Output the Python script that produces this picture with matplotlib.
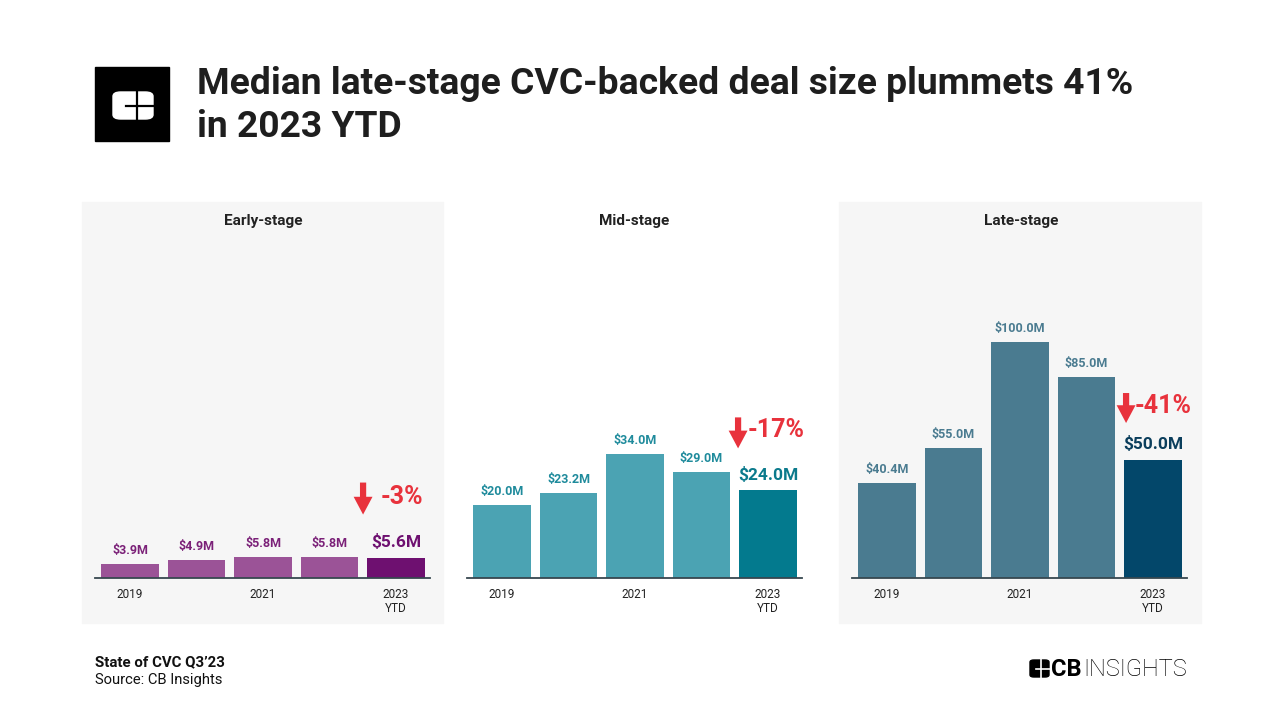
import matplotlib.pyplot as plt
import matplotlib.transforms as mtransforms
from matplotlib.patches import Rectangle, FancyBboxPatch

plt.rcParams['font.family'] = ['Roboto', 'DejaVu Sans']

# data
years = ["2019", "2020", "2021", "2022", "2023 YTD"]
tick_labels = ["2019", "", "2021", "", "2023\nYTD"]
stages = ["Early-stage", "Mid-stage", "Late-stage"]
early = [3.9, 4.9, 5.8, 5.8, 5.6]
mid = [20.0, 23.2, 34.0, 29.0, 24.0]
late = [40.4, 55.0, 100.0, 85.0, 50.0]
changes = ["-3%", "-17%", "-41%"]

W, H = 1280, 720
fig = plt.figure(figsize=(12.8, 7.2), dpi=100)
fig.patch.set_facecolor("white")


def fx(x):
    return x / W


def fy(y):
    return 1 - y / H


RED = "#e8323c"

# panel backgrounds (mid panel is plain white)
for x0, x1 in [(82, 443), (839, 1201)]:
    fig.patches.append(Rectangle((fx(x0), fy(623)), fx(x1 - x0), (623 - 202) / H,
                                 transform=fig.transFigure, color="#f6f6f6", zorder=-10))

# arrow offsets in pixels from the top of the last bar: (arrow dx, bottom, top, text dx, text dy)
panels = [
    dict(vals=early, left=95, top=92.05, bar="#9b5397", hi="#6e1070",
         lab="#7b2178", hilab="#6e1070", title_x=263, arr=(-33, 43, 75, -15, 61)),
    dict(vals=mid, left=467, top=92.05, bar="#4ba3b3", hi="#037a8e",
         lab="#1f8b9c", hilab="#0b7a8c", title_x=634, arr=(-30, 42, 73, -20, 60)),
    dict(vals=late, left=852, top=142.4, bar="#4a7b90", hi="#03476a",
         lab="#4a7b90", hilab="#0b3e5c", title_x=1021, arr=(-27, 37, 67, -18, 54)),
]

for p, name, chg in zip(panels, stages, changes):
    ax = fig.add_axes([fx(p["left"]), fy(578), fx(335), (578 - 242) / H])
    ax.set_facecolor("none")
    xs = range(len(p["vals"]))
    colors = [p["bar"]] * 4 + [p["hi"]]
    ax.bar(xs, p["vals"], width=0.87, color=colors, zorder=2)
    ax.set_xlim(-0.526, 4.51)
    ax.set_ylim(0, p["top"])
    for s in ["top", "right", "left"]:
        ax.spines[s].set_visible(False)
    ax.spines["bottom"].set_color("#37474f")
    ax.spines["bottom"].set_linewidth(1.3)
    ax.set_yticks([])
    ax.set_xticks(list(xs))
    ax.set_xticklabels(tick_labels, fontsize=8.5, color="#222222", linespacing=1.1)
    ax.tick_params(axis="x", length=0, pad=7)

    for i, v in enumerate(p["vals"]):
        if i < 4:
            ax.annotate(f"${v:.1f}M", (i, v), xytext=(0, 5), textcoords="offset points",
                        ha="center", va="bottom", fontsize=9, fontweight="bold",
                        color=p["lab"])
        else:
            ax.annotate(f"${v:.1f}M", (i, v), xytext=(0, 5.5), textcoords="offset points",
                        ha="center", va="bottom", fontsize=12.5, fontweight="bold",
                        color=p["hilab"])

    # red arrow with change
    v = p["vals"][4]
    adx, ab, at, tdx, tdy = p["arr"]
    bot = mtransforms.offset_copy(ax.transData, fig=fig, x=adx, y=ab, units="dots")
    topt = mtransforms.offset_copy(ax.transData, fig=fig, x=adx, y=at, units="dots")
    ax.annotate("", xy=(4, v), xycoords=bot, xytext=(4, v), textcoords=topt,
                arrowprops=dict(arrowstyle="simple,tail_width=0.28,head_width=0.85,head_length=0.8",
                                mutation_scale=16, color=RED, lw=0, shrinkA=0, shrinkB=0))
    txt = mtransforms.offset_copy(ax.transData, fig=fig, x=tdx, y=tdy, units="dots")
    ax.text(4, v, chg, transform=txt, ha="left", va="center", fontsize=18,
            fontweight="bold", color=RED)

    fig.text(fx(p["title_x"]), fy(221), name, ha="center", va="center",
             fontsize=11, fontweight="bold", color="#222222")

# title
fig.text(fx(197), fy(94), "Median late-stage CVC-backed deal size plummets 41%",
         ha="left", va="baseline", fontsize=26.8, fontweight="bold", color="#1e1e1e")
fig.text(fx(197), fy(137), "in 2023 YTD",
         ha="left", va="baseline", fontsize=26.8, fontweight="bold", color="#1e1e1e")

# square logo
fig.patches.append(Rectangle((fx(95), fy(141)), fx(74), 74 / H,
                             transform=fig.transFigure, color="black", zorder=3))
fig.patches.append(FancyBboxPatch((fx(113), fy(119)), fx(40), 27 / H,
                                  boxstyle="round,pad=0,rounding_size=0.006",
                                  transform=fig.transFigure, color="white", zorder=4))
fig.lines.append(plt.Line2D([fx(126), fx(154)], [fy(105.5), fy(105.5)],
                            transform=fig.transFigure, color="black", lw=1.6, zorder=5))
fig.lines.append(plt.Line2D([fx(137), fx(137)], [fy(90), fy(121)],
                            transform=fig.transFigure, color="black", lw=1.6, zorder=5))

# footer
fig.text(fx(95), fy(662), "State of CVC Q3\u201923", ha="left", va="center",
         fontsize=10.8, fontweight="bold", color="#111111")
fig.text(fx(95), fy(680), "Source: CB Insights", ha="left", va="center",
         fontsize=10.6, color="#111111")

# CB Insights brand mark
fig.patches.append(FancyBboxPatch((fx(1030), fy(677)), fx(19), 17 / H,
                                  boxstyle="round,pad=0,rounding_size=0.003",
                                  transform=fig.transFigure, color="black", zorder=4))
fig.lines.append(plt.Line2D([fx(1036), fx(1050)], [fy(668.5), fy(668.5)],
                            transform=fig.transFigure, color="white", lw=1.2, zorder=5))
fig.lines.append(plt.Line2D([fx(1041), fx(1041)], [fy(659), fy(678)],
                            transform=fig.transFigure, color="white", lw=1.2, zorder=5))
fig.text(fx(1051), fy(669), "CB", ha="left", va="center", fontsize=17,
         fontweight="bold", color="black")
fig.text(fx(1083), fy(669), "INSIGHTS", ha="left", va="center", fontsize=17,
         fontweight="light", color="black")

fig.savefig("out.png", dpi=100)
